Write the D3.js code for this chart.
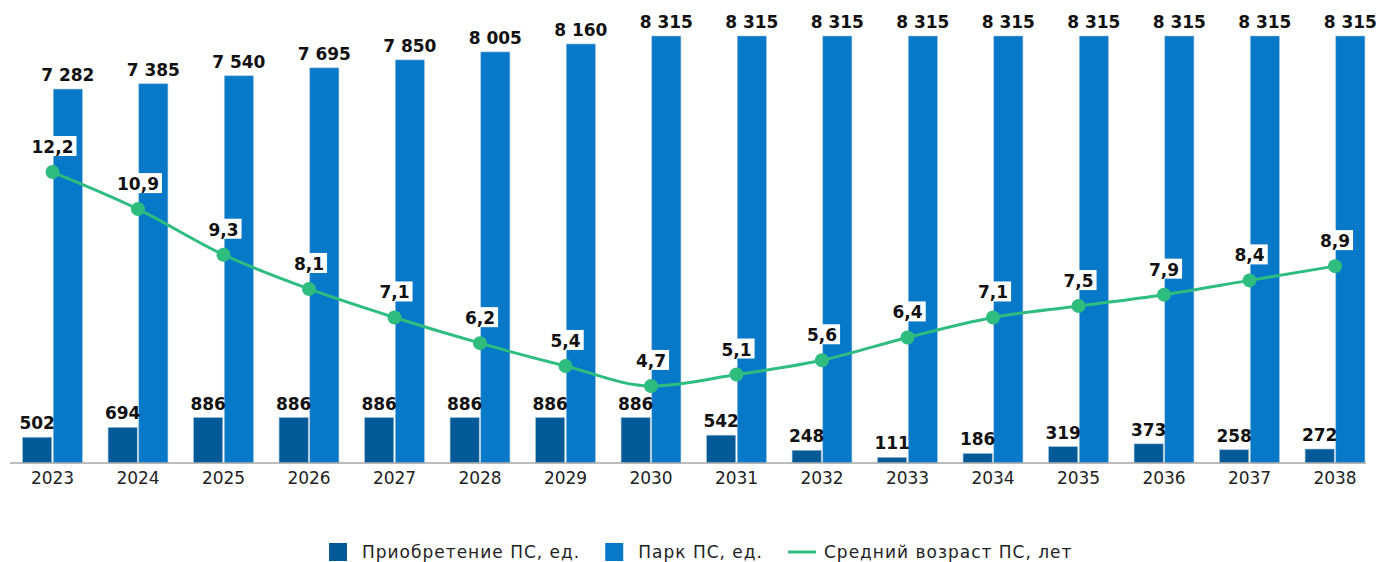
<!DOCTYPE html>
<html>
<head>
<meta charset="utf-8">
<script src="https://cdn.jsdelivr.net/npm/d3@7"></script>
<style>
  body { margin: 0; background: #fff; }
  svg { display: block; font-family: "DejaVu Sans", sans-serif; }
  .axis path, .axis line { stroke: #a6a6a6; }
</style>
</head>
<body>
<div id="chart"></div>
<script>
let w = 1376;
let h = 562;

let years = ["2023", "2024", "2025", "2026", "2027", "2028", "2029", "2030",
    "2031", "2032", "2033", "2034", "2035", "2036", "2037", "2038"];
let purchase = [502, 694, 886, 886, 886, 886, 886, 886, 542, 248, 111, 186, 319, 373, 258, 272];
let fleet = [7282, 7385, 7540, 7695, 7850, 8005, 8160, 8315, 8315, 8315, 8315, 8315, 8315, 8315, 8315, 8315];
let age = [12.2, 10.9, 9.3, 8.1, 7.1, 6.2, 5.4, 4.7, 5.1, 5.6, 6.4, 7.1, 7.5, 7.9, 8.4, 8.9];
let legendNames = ["Приобретение ПС, ед.", "Парк ПС, ед.", "Средний возраст ПС, лет"];

let cDark = "#045a96";
let cBlue = "#0779c8";
let cGreen = "#2ebd7e";

let baseY = 463;

let x = d3.scaleBand()
    .domain(years)
    .range([9.75, 1377.75])
    .paddingInner(0.3)
    .paddingOuter(0.15);

let x1 = d3.scaleBand()
    .domain(["p", "f"])
    .range([0, x.bandwidth()])
    .paddingInner(0.05);

let y = d3.scaleLinear()
    .domain([0, 8315])
    .range([baseY, 36]);

let y2 = d3.scaleLinear()
    .domain([0, 12.2])
    .range([520, 172]);

let fmt = (v) => d3.format(",")(v).replace(/,/g, " ");
let fmtAge = (v) => d3.format(".1f")(v).replace(".", ",");

let svg = d3.select("#chart")
    .append("svg")
    .attr("width", w)
    .attr("height", h);

// bars
let groups = svg.selectAll("g.grp")
    .data(years)
    .enter()
    .append("g")
    .attr("class", "grp")
    .attr("transform", (d) => "translate(" + x(d) + ",0)");

groups.append("rect")
    .attr("x", x1("p"))
    .attr("y", (d, i) => y(purchase[i]))
    .attr("width", x1.bandwidth())
    .attr("height", (d, i) => baseY - y(purchase[i]))
    .attr("fill", cDark)
    .attr("stroke", "#9fc3e0")
    .attr("stroke-width", 0.6);

groups.append("rect")
    .attr("x", x1("f"))
    .attr("y", (d, i) => y(fleet[i]))
    .attr("width", x1.bandwidth())
    .attr("height", (d, i) => baseY - y(fleet[i]))
    .attr("fill", cBlue)
    .attr("stroke", "#9fc3e0")
    .attr("stroke-width", 0.6);

groups.append("text")
    .attr("x", x1("p") + x1.bandwidth() / 2)
    .attr("y", (d, i) => y(purchase[i]) - 8)
    .attr("text-anchor", "middle")
    .attr("font-size", 17)
    .attr("font-weight", "bold")
    .attr("fill", "#111")
    .text((d, i) => fmt(purchase[i]));

groups.append("text")
    .attr("x", x1("f") + x1.bandwidth() / 2)
    .attr("y", (d, i) => y(fleet[i]) - 8)
    .attr("text-anchor", "middle")
    .attr("font-size", 17)
    .attr("font-weight", "bold")
    .attr("fill", "#111")
    .text((d, i) => fmt(fleet[i]));

// x axis
let xAxis = d3.axisBottom(x).tickSize(0).tickPadding(9);
let ax = svg.append("g")
    .attr("class", "axis")
    .attr("transform", "translate(0," + baseY + ")")
    .call(xAxis);
ax.select(".domain").attr("d", "M10,0H1366").attr("stroke-width", 1.5);
ax.selectAll("text")
    .attr("font-family", "DejaVu Sans, sans-serif")
    .attr("font-size", 17)
    .attr("fill", "#222");

// age line
let cx = (i) => x(years[i]) + x.bandwidth() / 2;
let line = d3.line()
    .x((d, i) => cx(i))
    .y((d) => y2(d))
    .curve(d3.curveMonotoneX);

svg.append("path")
    .datum(age)
    .attr("d", line)
    .attr("fill", "none")
    .attr("stroke", cGreen)
    .attr("stroke-width", 3);

svg.selectAll("circle.dot")
    .data(age)
    .enter()
    .append("circle")
    .attr("class", "dot")
    .attr("cx", (d, i) => cx(i))
    .attr("cy", (d) => y2(d))
    .attr("r", 7)
    .attr("fill", cGreen);

let lbl = svg.selectAll("g.agelbl")
    .data(age)
    .enter()
    .append("g")
    .attr("class", "agelbl")
    .attr("transform", (d, i) => "translate(" + cx(i) + "," + (y2(d) - 19) + ")");

lbl.append("text")
    .attr("text-anchor", "middle")
    .attr("font-size", 17)
    .attr("font-weight", "bold")
    .attr("fill", "#111")
    .text((d) => fmtAge(d));

lbl.each(function () {
    let g = d3.select(this);
    let bb = g.select("text").node().getBBox();
    g.insert("rect", "text")
        .attr("x", bb.x - 3)
        .attr("y", bb.y - 1)
        .attr("width", bb.width + 6)
        .attr("height", bb.height)
        .attr("fill", "#fff");
});

// legend
let legend = svg.append("g").attr("transform", "translate(0,552)");
let lx = 329;
let items = legend.selectAll("g")
    .data(legendNames)
    .enter()
    .append("g");

items.each(function (d, i) {
    let g = d3.select(this);
    let tx;
    if (i < 2) {
        g.append("rect")
            .attr("x", 0).attr("y", -9)
            .attr("width", 18).attr("height", 18)
            .attr("fill", i == 0 ? cDark : cBlue);
        tx = 33;
    } else {
        g.append("line")
            .attr("x1", 0).attr("x2", 28)
            .attr("y1", 0).attr("y2", 0)
            .attr("stroke", cGreen)
            .attr("stroke-width", 3);
        tx = 36;
    }
    let t = g.append("text")
        .attr("x", tx)
        .attr("y", 6)
        .attr("font-size", 17)
        .attr("letter-spacing", "1px")
        .attr("fill", "#222")
        .text(d);
    g.attr("transform", "translate(" + lx + ",0)");
    lx += tx + t.node().getComputedTextLength() + 25;
});
</script>
</body>
</html>
